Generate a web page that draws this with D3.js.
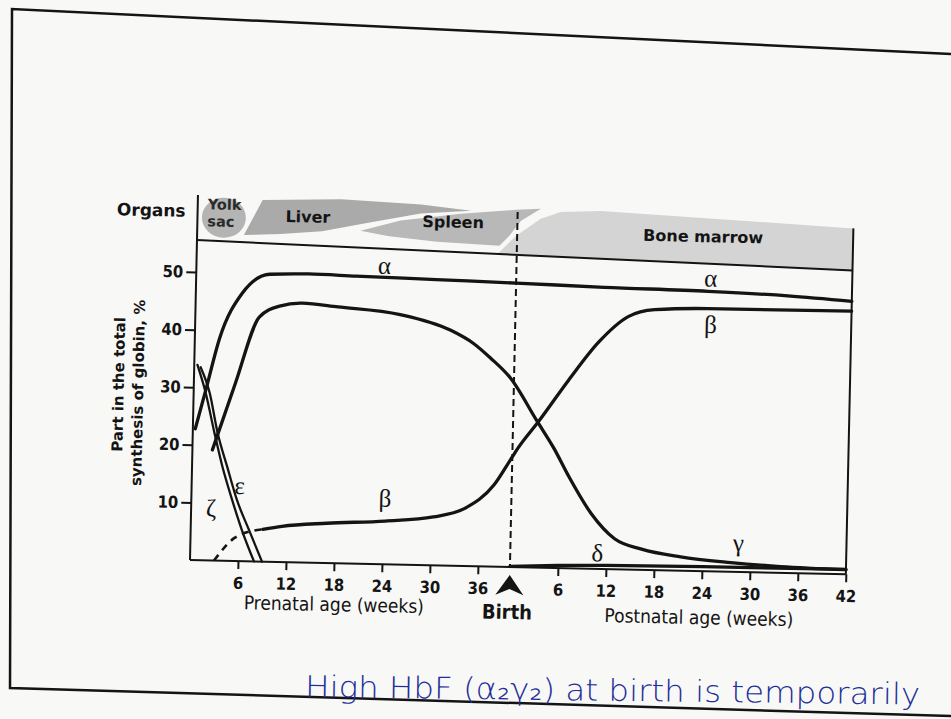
<!DOCTYPE html>
<html>
<head>
<meta charset="utf-8">
<script src="https://cdn.jsdelivr.net/npm/d3@7"></script>
<style>
  body { margin: 0; background: #f8f8f6; }
  svg { display: block; }
</style>
</head>
<body>
<div id="chart"></div>
<script>
// weeks counted from conception: birth is week 40, postnatal week n is 40 + n
var birthWeek = 40;
var prenatalTicks = [6, 12, 18, 24, 30, 36];
var postnatalTicks = [6, 12, 18, 24, 30, 36, 42];
var yTicks = [10, 20, 30, 40, 50];

// globin chains, [week, % of total synthesis]
var alpha = [[0.3, 22.8], [1.5, 29.5], [3.1, 38.6], [5.8, 46.5], [9.2, 49.9], [14, 50.1], [20, 49.9],
             [30, 49.6], [40, 49.3], [51, 48.9], [64, 48.6], [74, 48.1], [82, 47.4]];
var gamma = [[2.5, 19.2], [5.2, 30.9], [8.0, 42.4], [10.5, 44.4], [13.3, 45.0], [17.8, 44.5], [25.6, 43.4],
             [31.9, 40.9], [34.8, 38.7], [37.0, 36.2], [39.55, 32.8], [43.0, 25.4], [45.2, 20.7], [47, 16.2],
             [50, 9.6], [53, 5.3], [56.4, 3.6], [61.3, 2.4], [67.6, 1.6], [73.8, 1.1], [82, 0.8]];
var betaEarly = [[3.0, 0], [5.5, 4.0], [7.2, 5.1], [9, 5.6]];
var beta = [[9, 5.6], [11.4, 6.2], [17, 6.9], [24.3, 7.5], [30.3, 8.4], [34.2, 10.0], [37.8, 14.2],
            [39.9, 18.9], [40.7, 20.7], [43.2, 25.4], [46.8, 32.6], [50.5, 39.4], [54.1, 43.9],
            [57.4, 45.2], [64, 45.6], [82, 45.7]];
var delta = [[40, 0.1], [46, 0.45], [52, 0.65], [64, 0.8], [82, 0.85]];
var zeta = [[0.4, 33.9], [1.5, 29.1], [2.7, 22.2], [3.8, 16.3], [5.1, 10.6], [6.4, 5.4], [8.0, 0]];
var epsilon = [[0.8, 33.5], [2.0, 29.1], [3.1, 22.2], [4.4, 16.3], [5.7, 10.6], [7.3, 5.4], [9.0, 0]];

// chain names, placed at [week, %]
var chainLabels = [["α", 23.5, 50.4], ["α", 64.3, 49.4], ["β", 24.2, 10], ["β", 64.4, 41.4],
                   ["γ", 68.5, 3.6], ["δ", 50.9, 1.3], ["ε", 6.0, 11.6], ["ζ", 2.5, 7.6]];

var W = 951, H = 719;
var ink = "#141414";

var svg = d3.select("#chart").append("svg")
    .attr("width", W)
    .attr("height", H);

svg.append("rect").attr("width", W).attr("height", H).attr("fill", "#f8f8f6");

// edge of the photographed sheet
svg.append("path")
    .attr("d", "M951,54 L12,9 L10,688 L951,716")
    .attr("fill", "none")
    .attr("stroke", ink)
    .attr("stroke-width", 2.5);

// the page is photographed slightly skewed
var g = svg.append("g").attr("transform", "rotate(1.25,190,560)");

var x = d3.scaleLinear().domain([0, 82]).range([190, 846]);
var y = d3.scaleLinear().domain([0, 50]).range([560, 272]);

var headerTop = 195;
var headerLine = function(w) { return 240 + (x(w) - 190) * 0.0245; };

// ---- organs band ----
var band = d3.line().x(function(d) { return x(d[0]); }).y(function(d) { return d[1]; })
    .curve(d3.curveLinearClosed);

g.append("ellipse")
    .attr("cx", x(3.3)).attr("cy", 217).attr("rx", 22).attr("ry", 20)
    .attr("fill", "#b4b4b4");

g.append("path")
    .attr("d", band([[5.85, 234], [8.1, 198.6], [17.9, 196.1], [27.9, 199.6], [34.2, 204.6],
                     [27.9, 208.6], [21.7, 218.5], [15.6, 228.5], [10.4, 232]]))
    .attr("fill", "#aaaaaa");

g.append("path")
    .attr("d", band([[20.4, 227], [25.4, 216], [32.9, 207.8], [39.8, 202.8], [42.9, 201.3],
                     [40.45, 213.7], [39.0, 229], [37.8, 239], [30, 236.5], [24, 232]]))
    .attr("fill", "#b8b8b8");

g.append("path")
    .attr("d", band([[37.6, headerLine(37.6)], [39.85, 229], [42.9, 211.3], [45.4, 203.9], [50.4, 202.1],
                     [82, 214], [82, headerLine(82)]]))
    .attr("fill", "#d4d4d4");

g.append("line")
    .attr("x1", x(0)).attr("y1", headerLine(0))
    .attr("x2", x(82)).attr("y2", headerLine(82))
    .attr("stroke", ink).attr("stroke-width", 2);

var bold = "'DejaVu Sans', sans-serif";
g.append("text").attr("x", 178).attr("y", 217).attr("text-anchor", "end")
    .attr("font-family", bold).attr("font-weight", "bold").attr("font-size", 17)
    .attr("fill", ink).text("Organs");
g.append("text").attr("x", 200).attr("y", 209)
    .attr("font-family", bold).attr("font-weight", "bold").attr("font-size", 14.5)
    .attr("fill", "#2a2a2a").text("Yolk");
g.append("text").attr("x", 200).attr("y", 226)
    .attr("font-family", bold).attr("font-weight", "bold").attr("font-size", 14.5)
    .attr("fill", "#2a2a2a").text("sac");
g.append("text").attr("x", 278).attr("y", 220)
    .attr("font-family", bold).attr("font-weight", "bold").attr("font-size", 16)
    .attr("fill", ink).text("Liver");
g.append("text").attr("x", 415).attr("y", 222)
    .attr("font-family", bold).attr("font-weight", "bold").attr("font-size", 16)
    .attr("fill", ink).text("Spleen");
g.append("text").attr("x", 636).attr("y", 231)
    .attr("font-family", bold).attr("font-weight", "bold").attr("font-size", 16)
    .attr("fill", ink).text("Bone marrow");

// ---- frame lines ----
g.append("line").attr("x1", x(0)).attr("y1", headerTop).attr("x2", x(0)).attr("y2", y(0))
    .attr("stroke", ink).attr("stroke-width", 2);
g.append("line").attr("x1", x(82)).attr("y1", 214).attr("x2", x(82)).attr("y2", y(0))
    .attr("stroke", ink).attr("stroke-width", 2);
g.append("line").attr("x1", x(0)).attr("y1", y(0)).attr("x2", x(82)).attr("y2", y(0))
    .attr("stroke", ink).attr("stroke-width", 2);
g.append("line").attr("x1", x(birthWeek)).attr("y1", 205).attr("x2", x(birthWeek)).attr("y2", y(0))
    .attr("stroke", ink).attr("stroke-width", 2).attr("stroke-dasharray", "7,4");

// ---- axes ----
var cond = "'DejaVu Sans Condensed', 'DejaVu Sans', sans-serif";

var yAxis = g.append("g").attr("transform", "translate(" + x(0) + ",0)")
    .call(d3.axisLeft(y).tickValues(yTicks).tickSize(10).tickPadding(3));

var xPre = g.append("g").attr("transform", "translate(0," + y(0) + ")")
    .call(d3.axisBottom(x).tickValues(prenatalTicks).tickSize(8).tickPadding(8));

var xPost = g.append("g").attr("transform", "translate(0," + y(0) + ")")
    .call(d3.axisBottom(x)
        .tickValues(postnatalTicks.map(function(d) { return birthWeek + d; }))
        .tickFormat(function(d) { return d - birthWeek; })
        .tickSize(8).tickPadding(8));

[yAxis, xPre, xPost].forEach(function(a) {
    a.select(".domain").remove();
    a.selectAll(".tick line").attr("stroke", ink).attr("stroke-width", 2);
    a.selectAll(".tick text")
        .attr("font-family", cond).attr("font-weight", "bold").attr("font-size", 16.5)
        .attr("fill", ink);
});

g.append("text")
    .attr("transform", "translate(120,386) rotate(-90)")
    .attr("text-anchor", "middle")
    .attr("font-family", bold).attr("font-weight", "bold").attr("font-size", 15)
    .attr("fill", ink).text("Part in the total");
g.append("text")
    .attr("transform", "translate(139.5,394) rotate(-90)")
    .attr("text-anchor", "middle")
    .attr("font-family", bold).attr("font-weight", "bold").attr("font-size", 15)
    .attr("fill", ink).text("synthesis of globin, %");

g.append("text").attr("x", x(18.1)).attr("y", 608).attr("text-anchor", "middle")
    .attr("font-family", cond).attr("font-size", 19).attr("fill", ink)
    .text("Prenatal age (weeks)");
g.append("text").attr("x", x(63.75)).attr("y", 613).attr("text-anchor", "middle")
    .attr("font-family", cond).attr("font-size", 19).attr("fill", ink)
    .text("Postnatal age (weeks)");
g.append("text").attr("x", x(39.75)).attr("y", 612).attr("text-anchor", "middle")
    .attr("font-family", cond).attr("font-weight", "bold").attr("font-size", 20).attr("fill", ink)
    .text("Birth");

// birth arrow
var bx = x(birthWeek);
g.append("path")
    .attr("d", "M" + bx + ",568 L" + (bx + 14) + ",588 L" + bx + ",582 L" + (bx - 14) + ",588 Z")
    .attr("fill", ink);

// ---- curves ----
var line = d3.line()
    .x(function(d) { return x(d[0]); })
    .y(function(d) { return y(d[1]); })
    .curve(d3.curveMonotoneX);

var curves = g.append("g").attr("fill", "none").attr("stroke", ink).attr("stroke-linecap", "round");

[alpha, gamma, beta, delta].forEach(function(s) {
    curves.append("path").attr("d", line(s)).attr("stroke-width", 3.3);
});
curves.append("path").attr("d", line(betaEarly)).attr("stroke-width", 2.6)
    .attr("stroke-dasharray", "7,6").attr("stroke-linecap", "butt");
[zeta, epsilon].forEach(function(s) {
    curves.append("path").attr("d", line(s)).attr("stroke-width", 2.3);
});

g.selectAll(".chain")
    .data(chainLabels)
    .enter().append("text")
    .attr("class", "chain")
    .attr("x", function(d) { return x(d[1]); })
    .attr("y", function(d) { return y(d[2]); })
    .attr("text-anchor", "middle")
    .attr("font-family", "'Liberation Serif', 'DejaVu Serif', serif")
    .attr("font-size", 25)
    .attr("fill", ink)
    .text(function(d) { return d[0]; });

// handwritten note below the figure
svg.append("text")
    .attr("x", 305).attr("y", 697)
    .attr("transform", "rotate(0.7,305,697)")
    .attr("font-family", "'DejaVu Sans', sans-serif")
    .attr("font-weight", 200)
    .attr("font-size", 30)
    .attr("fill", "#1f2f9a")
    .attr("textLength", 615)
    .attr("lengthAdjust", "spacingAndGlyphs")
    .text("High  HbF  (α₂γ₂)  at  birth  is  temporarily");
</script>
</body>
</html>
